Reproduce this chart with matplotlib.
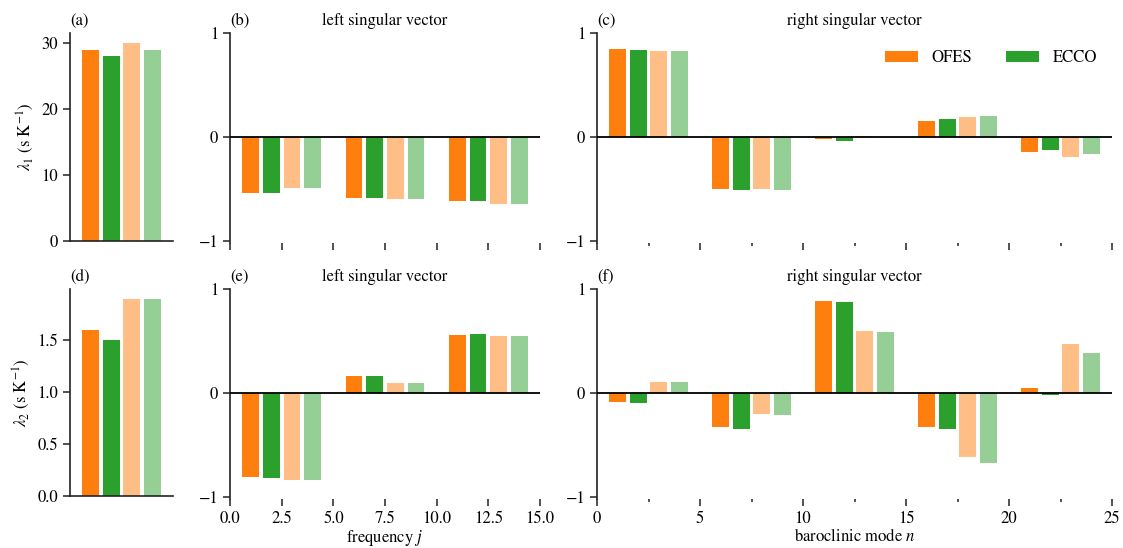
import numpy as np
import matplotlib
matplotlib.use('Agg')
import matplotlib.pyplot as plt
from matplotlib.ticker import MultipleLocator

plt.rcParams['font.family'] = ['STIXGeneral', 'DejaVu Sans']
plt.rcParams['mathtext.fontset'] = 'stix'
plt.rcParams['font.size'] = 12
plt.rcParams['axes.unicode_minus'] = True

series_names = ['OFES', 'ECCO']
colors = ['#ff7f0e', '#2ca02c', '#ff7f0e', '#2ca02c']
alphas = [1.0, 1.0, 0.5, 0.5]

# singular values (OFES, ECCO, OFES alt, ECCO alt)
lam1 = [29.0, 28.0, 30.0, 29.0]
lam2 = [1.6, 1.5, 1.9, 1.9]

# first singular mode
left1_ofes = [-0.54, -0.59, -0.615]
left1_ecco = [-0.54, -0.59, -0.615]
left1_ofes_alt = [-0.49, -0.60, -0.64]
left1_ecco_alt = [-0.49, -0.60, -0.64]
right1_ofes = [0.85, -0.50, -0.022, 0.16, -0.14]
right1_ecco = [0.84, -0.51, -0.035, 0.17, -0.12]
right1_ofes_alt = [0.83, -0.50, 0.013, 0.19, -0.19]
right1_ecco_alt = [0.83, -0.51, 0.003, 0.20, -0.16]

# second singular mode
left2_ofes = [-0.81, 0.16, 0.555]
left2_ecco = [-0.82, 0.16, 0.565]
left2_ofes_alt = [-0.84, 0.10, 0.545]
left2_ecco_alt = [-0.84, 0.10, 0.545]
right2_ofes = [-0.09, -0.325, 0.885, -0.325, 0.05]
right2_ecco = [-0.10, -0.345, 0.875, -0.345, -0.023]
right2_ofes_alt = [0.11, -0.20, 0.60, -0.615, 0.475]
right2_ecco_alt = [0.11, -0.21, 0.59, -0.67, 0.38]

BAR_W = 0.82
FS = 12

fig = plt.figure(figsize=(11.23, 5.48), dpi=100)
W, H = 1123.0, 548.0


def add_ax(l, r, t, b):
    return fig.add_axes([l / W, 1 - b / H, (r - l) / W, (b - t) / H])


def style(ax):
    for s in ['top', 'right']:
        ax.spines[s].set_visible(False)
    for s in ['left', 'bottom']:
        ax.spines[s].set_linewidth(1.2)
        ax.spines[s].set_color('#222222')
    ax.tick_params(direction='out', length=5, width=1.1, color='#222222',
                   labelsize=FS)


def value_panel(ax, vals, ylabel, yticks, label):
    style(ax)
    x = np.arange(1, len(vals) + 1)
    for k, v in enumerate(vals):
        ax.bar(x[k], v, BAR_W, color=colors[k], alpha=alphas[k], linewidth=0)
    ax.set_xlim(0, 5)
    ax.set_xticks([])
    ax.set_yticks(yticks)
    ax.set_ylabel(ylabel, fontsize=FS)
    ax.set_title(label, loc='left', fontsize=FS)


def vector_panel(ax, series, xmax, major, minor, title, label, show_x, xlabel=None):
    style(ax)
    ax.spines['bottom'].set_visible(False)
    for k, vals in enumerate(series):
        x = 5 * np.arange(len(vals)) + 1 + k
        ax.bar(x, vals, BAR_W, color=colors[k], alpha=alphas[k], linewidth=0,
               label=series_names[k] if k < 2 else None)
    ax.axhline(0, color='black', lw=1.3, zorder=3)
    ax.set_xlim(0, xmax)
    ax.set_ylim(-1.02, 1.0)
    ax.set_yticks([-1, 0, 1])
    ax.xaxis.set_major_locator(MultipleLocator(major))
    if minor:
        ax.xaxis.set_minor_locator(MultipleLocator(minor))
        ax.tick_params(axis='x', which='minor', direction='out', length=2.5,
                       width=1.1, color='#222222')
    if not show_x:
        ax.tick_params(axis='x', labelbottom=False)
    if xlabel:
        ax.set_xlabel(xlabel, fontsize=FS, labelpad=0.5)
    ax.set_title(label, loc='left', fontsize=FS)
    ax.set_title(title, fontsize=FS)


# top row
ax_a = add_ax(70, 173, 33, 241)
value_panel(ax_a, lam1, r'$\lambda_1$ (s K$^{-1}$)', [0, 10, 20, 30], '(a)')

ax_b = add_ax(230, 540, 33.3, 243)
vector_panel(ax_b, [left1_ofes, left1_ecco, left1_ofes_alt, left1_ecco_alt],
             15, 2.5, None, 'left singular vector', '(b)', False)

ax_c = add_ax(597, 1112, 33.3, 243)
vector_panel(ax_c, [right1_ofes, right1_ecco, right1_ofes_alt, right1_ecco_alt],
             25, 5, 2.5, 'right singular vector', '(c)', False)
ax_c.legend(loc='upper right', ncol=2, frameon=False, fontsize=FS,
            handlelength=2.0, handleheight=0.7, handletextpad=0.8,
            columnspacing=2.0, bbox_to_anchor=(1.0, 0.99))

# bottom row
ax_d = add_ax(70, 173, 289, 496)
value_panel(ax_d, lam2, r'$\lambda_2$ (s K$^{-1}$)', [0.0, 0.5, 1.0, 1.5], '(d)')

ax_e = add_ax(230, 540, 289, 499)
vector_panel(ax_e, [left2_ofes, left2_ecco, left2_ofes_alt, left2_ecco_alt],
             15, 2.5, None, 'left singular vector', '(e)', True,
             xlabel=r'frequency $j$')

ax_f = add_ax(597, 1112, 289, 499)
vector_panel(ax_f, [right2_ofes, right2_ecco, right2_ofes_alt, right2_ecco_alt],
             25, 5, 2.5, 'right singular vector', '(f)', True,
             xlabel=r'baroclinic mode $n$')

fig.savefig('out.png', dpi=100)
